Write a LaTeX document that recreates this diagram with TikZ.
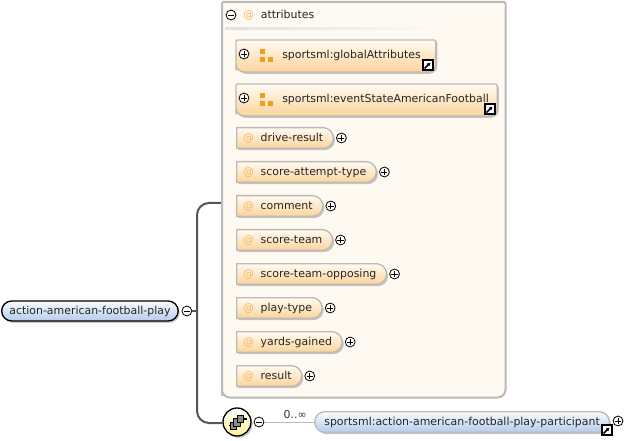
\documentclass[tikz,border=0pt]{standalone}
\usepackage{fontspec}
\setmainfont{DejaVu Sans}
\usepackage{xcolor}
\usetikzlibrary{shapes.misc,positioning,calc,shadows,arrows.meta}

\definecolor{attrtop}{HTML}{FFFBF3}
\definecolor{attrbot}{HTML}{FCD49A}
\definecolor{roottop}{HTML}{FAFCFF}
\definecolor{rootbot}{HTML}{B4CAEC}
\definecolor{panelfill}{HTML}{FEF9F1}
\definecolor{panelline}{HTML}{BCBAB6}
\definecolor{atsign}{HTML}{F2B765}
\definecolor{grpicon}{HTML}{EE9F1E}
\definecolor{trunkline}{HTML}{555555}

\tikzset{
  softshadow/.style={drop shadow={shadow xshift=1.2pt,shadow yshift=-1.4pt,opacity=.3,fill=black!70}},
  pill/.style={rounded rectangle,rounded rectangle west arc=none,draw=panelline,line width=1pt,
    top color=attrtop,bottom color=attrbot,minimum height=15.5pt,inner xsep=4.8pt,inner ysep=0pt,
    text height=7pt,text depth=1.4pt,execute at end node={\hspace{1.6pt}},anchor=west,softshadow,text=black!85},
  nextpill/.style={pill,below=of #1.south west,anchor=north west},
  sidefill/.style={draw=panelline,line width=1pt,top color=attrtop,bottom color=attrbot,softshadow},
  anchorbox/.style={minimum width=#1,minimum height=23.5pt,inner sep=0pt,anchor=west},
  minusbtn/.style={circle,draw,fill=white,inner sep=0pt,minimum size=7.4pt,line width=.6pt,
    path picture={\draw[line width=.55pt] ([xshift=1.4pt]path picture bounding box.west) -- ([xshift=-1.4pt]path picture bounding box.east);}},
  plusbtn/.style={minusbtn,
    path picture={\draw[line width=.55pt] ([xshift=1.4pt]path picture bounding box.west) -- ([xshift=-1.4pt]path picture bounding box.east);
      \draw[line width=.55pt] ([yshift=-1.4pt]path picture bounding box.north) -- ([yshift=1.4pt]path picture bounding box.south);}},
  linkbox/.style={draw,fill=white,inner sep=0pt,minimum size=7.5pt,line width=.8pt,
    path picture={\draw[-{Latex[length=2.6pt,width=3pt]},line width=1.1pt] (path picture bounding box.south west) ++(1.2pt,1.2pt) -- ++(4.4pt,4.4pt);}},
  grpsquare/.style={fill=grpicon,minimum size=3.75pt,inner sep=0pt},
  grptext/.style={text=black!85,anchor=west,inner sep=0pt},
  seqbox/.style={draw,fill=black!45,line width=.6pt,minimum width=5pt,minimum height=5.5pt,inner sep=0pt},
}
\newcommand{\sidepath}[2]{(#1.south west) [rounded corners=1pt] -- (#1.north west) -- (#1.north east) [rounded corners=#2] -- (#1.south east) -- (#1.south west) [rounded corners=1pt] -- cycle}
\newcommand{\atmark}{{\color{atsign}@}\hspace{5pt}}

\begin{document}
\begin{tikzpicture}[x=.75pt,y=-.75pt,font=\fontsize{8.2}{10}\selectfont,node distance=9pt]
  \useasboundingbox (0,0) rectangle (641,441);

  % attributes panel
  \node[inner sep=0pt,minimum width=212.25pt,minimum height=296.25pt,anchor=north west] (panel) at (222,2) {};
  \coordinate (trunktop) at (222,203);
  \coordinate (trunkend) at (222,423);
  \draw[trunkline,line width=1.5pt,rounded corners=9pt] (trunktop) -- (197,203) -- (197,423) -- (trunkend);
  \draw[draw=panelline,fill=panelfill,line width=1.5pt] \sidepath{panel}{6pt};
  \node[minusbtn] (attrminus) at (231,15) {};
  \node[right=5pt of attrminus,grptext,yshift=-.6pt] (attrtitle) {\atmark attributes};
  \shade[left color=black!12,right color=panelfill] (225,28) rectangle (440,30);

  % attribute groups
  \node[anchorbox=149.5pt] (global) at (236,56) {};
  \draw[sidefill] \sidepath{global}{6pt};
  \node[plusbtn] (globalplus) at (244,54) {};
  \node[grpsquare] (globalsq) at (262.5,51.5) {};
  \node[grpsquare,below=1.5pt of globalsq] (globalsqa) {};
  \node[grpsquare,right=1.5pt of globalsqa] (globalsqb) {};
  \node[grptext] (globallabel) at (282,55) {sportsml:globalAttributes};
  \node[linkbox] (globallink) at (428,65) {};

  \node[anchorbox=195.5pt] (state) at (236,100) {};
  \draw[sidefill] \sidepath{state}{6pt};
  \node[plusbtn] (stateplus) at (244,98) {};
  \node[grpsquare] (statesq) at (262.5,95.5) {};
  \node[grpsquare,below=1.5pt of statesq] (statesqa) {};
  \node[grpsquare,right=1.5pt of statesqa] (statesqb) {};
  \node[grptext] (statelabel) at (282,99) {sportsml:eventStateAmericanFootball};
  \node[linkbox] (statelink) at (490,109) {};

  % attributes
  \node[pill] (drive) at (236,138) {\atmark drive-result};
  \node[nextpill=drive] (attempt) {\atmark score-attempt-type};
  \node[nextpill=attempt] (comment) {\atmark comment};
  \node[nextpill=comment] (team) {\atmark score-team};
  \node[nextpill=team] (opposing) {\atmark score-team-opposing};
  \node[nextpill=opposing] (playtype) {\atmark play-type};
  \node[nextpill=playtype] (yards) {\atmark yards-gained};
  \node[nextpill=yards] (result) {\atmark result};
  \foreach \n in {drive,attempt,comment,team,opposing,playtype,yards,result}
    \node[plusbtn,right=1.5pt of \n] (\n plus) {};

  % root element
  \node[rounded rectangle,draw,line width=1pt,top color=roottop,bottom color=rootbot,minimum height=15pt,
    inner xsep=4.5pt,inner ysep=0pt,text height=7pt,text depth=1.4pt,anchor=west,softshadow,text=black!85] (root) at (1,311) {action-american-football-play};
  \node[minusbtn,right=2pt of root] (rootminus) {};
  \draw[trunkline,line width=1.2pt] (rootminus) -- (197,311);

  % sequence
  \node[circle,draw,line width=1pt,inner sep=0pt,minimum size=21pt,top color=white,bottom color=yellow!35!white!90!orange,softshadow] (seq) at (237,422) {};
  \node[seqbox] (seqa) at (233.5,426) {};
  \node[seqbox] (seqb) at (237,422.5) {};
  \node[seqbox] (seqc) at (240.5,419) {};
  \coordinate (seqin) at (229,425.5);
  \coordinate (seqout) at (247,419);
  \draw[line width=.8pt] (seqin) -- (seqa);
  \draw[line width=.8pt] (seqc) -- (seqout);
  \node[minusbtn] (seqminus) at (259,422) {};

  % participant
  \node[rounded rectangle,draw=panelline,line width=1pt,top color=roottop,bottom color=rootbot,minimum height=15.5pt,
    inner xsep=6pt,inner ysep=0pt,text height=7pt,text depth=1.4pt,anchor=west,softshadow,text=black!85] (part) at (314,422) {sportsml:action-american-football-play-participant};
  \draw[panelline,line width=.6pt] (seqminus) -- node[pos=.62,above=2pt,text=black!80,inner sep=0pt] (card) {0..∞} (part);
  \node[linkbox] (partlink) at (607,430) {};
  \node[plusbtn] (partplus) at (618,421) {};
\end{tikzpicture}
\end{document}
